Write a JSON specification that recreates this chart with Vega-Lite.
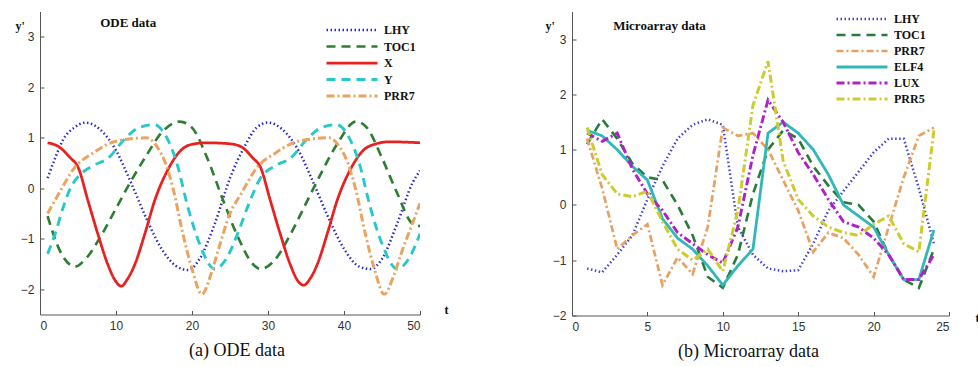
{
  "$schema": "https://vega.github.io/schema/vega-lite/v6.json",
  "background": "white",
  "padding": {"left": 15, "top": 8.5, "right": 0, "bottom": 0},
  "spacing": 152,
  "bounds": "flush",
  "config": {
    "view": {"stroke": null},
    "axis": {"grid": false, "domainColor": "#555", "tickColor": "#555", "tickSize": -4, "labelPadding": 10, "labelFont": "Liberation Sans", "labelFontSize": 12, "labelColor": "#333", "titleFont": "Liberation Serif", "titleFontWeight": "bold", "titleFontSize": 12, "titleColor": "#111", "format": "d"},
    "legend": {"orient": "none", "title": null, "symbolType": "M-3,0L3,0", "symbolSize": 289, "labelFont": "Liberation Serif", "labelFontWeight": "bold", "labelFontSize": 12, "labelColor": "#111", "padding": 0, "labelOffset": 22, "rowPadding": 0.5},
    "title": {"font": "Liberation Serif", "fontSize": 18, "fontWeight": "normal", "color": "#111", "orient": "bottom", "anchor": "middle"}
  },
  "resolve": {"scale": {"color": "independent", "strokeDash": "independent", "strokeWidth": "independent"}},
  "hconcat": [
    {
      "width": 380,
      "height": 303,
      "title": {"text": "(a) ODE data", "dx": 7, "offset": 10},
      "data": {"values": [
        {"gene": "LHY", "t": 1, "y": 0.2}, {"gene": "LHY", "t": 2, "y": 0.6}, {"gene": "LHY", "t": 3, "y": 0.95}, {"gene": "LHY", "t": 4.5, "y": 1.2}, {"gene": "LHY", "t": 6, "y": 1.3}, {"gene": "LHY", "t": 8, "y": 1.15}, {"gene": "LHY", "t": 10, "y": 0.75}, {"gene": "LHY", "t": 12, "y": 0.1}, {"gene": "LHY", "t": 14, "y": -0.6}, {"gene": "LHY", "t": 16, "y": -1.2}, {"gene": "LHY", "t": 18, "y": -1.55}, {"gene": "LHY", "t": 19.5, "y": -1.62}, {"gene": "LHY", "t": 21, "y": -1.4}, {"gene": "LHY", "t": 23, "y": -0.7}, {"gene": "LHY", "t": 25, "y": 0.2}, {"gene": "LHY", "t": 27, "y": 0.85}, {"gene": "LHY", "t": 28.5, "y": 1.2}, {"gene": "LHY", "t": 30, "y": 1.3}, {"gene": "LHY", "t": 32, "y": 1.15}, {"gene": "LHY", "t": 34, "y": 0.75}, {"gene": "LHY", "t": 36, "y": 0.1}, {"gene": "LHY", "t": 38, "y": -0.6}, {"gene": "LHY", "t": 40, "y": -1.2}, {"gene": "LHY", "t": 42, "y": -1.55}, {"gene": "LHY", "t": 43.5, "y": -1.6}, {"gene": "LHY", "t": 45, "y": -1.4}, {"gene": "LHY", "t": 47, "y": -0.7}, {"gene": "LHY", "t": 49, "y": 0.1}, {"gene": "LHY", "t": 50, "y": 0.35},
        {"gene": "TOC1", "t": 1, "y": -0.55}, {"gene": "TOC1", "t": 2.5, "y": -1.2}, {"gene": "TOC1", "t": 4.6, "y": -1.55}, {"gene": "TOC1", "t": 6, "y": -1.4}, {"gene": "TOC1", "t": 8, "y": -0.95}, {"gene": "TOC1", "t": 10, "y": -0.4}, {"gene": "TOC1", "t": 12, "y": 0.15}, {"gene": "TOC1", "t": 14, "y": 0.65}, {"gene": "TOC1", "t": 16, "y": 1.1}, {"gene": "TOC1", "t": 18.4, "y": 1.32}, {"gene": "TOC1", "t": 20, "y": 1.2}, {"gene": "TOC1", "t": 22, "y": 0.6}, {"gene": "TOC1", "t": 24, "y": -0.2}, {"gene": "TOC1", "t": 26, "y": -0.95}, {"gene": "TOC1", "t": 28, "y": -1.5}, {"gene": "TOC1", "t": 29, "y": -1.6}, {"gene": "TOC1", "t": 31, "y": -1.4}, {"gene": "TOC1", "t": 33, "y": -0.9}, {"gene": "TOC1", "t": 35, "y": -0.3}, {"gene": "TOC1", "t": 37, "y": 0.3}, {"gene": "TOC1", "t": 39, "y": 0.85}, {"gene": "TOC1", "t": 41.6, "y": 1.32}, {"gene": "TOC1", "t": 43, "y": 1.2}, {"gene": "TOC1", "t": 45, "y": 0.6}, {"gene": "TOC1", "t": 47, "y": -0.1}, {"gene": "TOC1", "t": 49, "y": -0.7}, {"gene": "TOC1", "t": 50, "y": -0.75},
        {"gene": "X", "t": 1, "y": 0.9}, {"gene": "X", "t": 2.5, "y": 0.82}, {"gene": "X", "t": 4, "y": 0.6}, {"gene": "X", "t": 5, "y": 0.42}, {"gene": "X", "t": 6.3, "y": -0.24}, {"gene": "X", "t": 7.6, "y": -0.9}, {"gene": "X", "t": 8.9, "y": -1.5}, {"gene": "X", "t": 10, "y": -1.85}, {"gene": "X", "t": 10.7, "y": -1.94}, {"gene": "X", "t": 11.5, "y": -1.8}, {"gene": "X", "t": 12.5, "y": -1.5}, {"gene": "X", "t": 13.8, "y": -0.9}, {"gene": "X", "t": 15.1, "y": -0.24}, {"gene": "X", "t": 16.8, "y": 0.36}, {"gene": "X", "t": 18.6, "y": 0.76}, {"gene": "X", "t": 20, "y": 0.87}, {"gene": "X", "t": 22, "y": 0.9}, {"gene": "X", "t": 25, "y": 0.88}, {"gene": "X", "t": 26.5, "y": 0.82}, {"gene": "X", "t": 28, "y": 0.6}, {"gene": "X", "t": 29, "y": 0.42}, {"gene": "X", "t": 30.3, "y": -0.24}, {"gene": "X", "t": 31.6, "y": -0.9}, {"gene": "X", "t": 32.9, "y": -1.5}, {"gene": "X", "t": 34, "y": -1.85}, {"gene": "X", "t": 34.7, "y": -1.92}, {"gene": "X", "t": 35.5, "y": -1.8}, {"gene": "X", "t": 36.5, "y": -1.5}, {"gene": "X", "t": 37.8, "y": -0.9}, {"gene": "X", "t": 39.1, "y": -0.24}, {"gene": "X", "t": 40.8, "y": 0.36}, {"gene": "X", "t": 42.6, "y": 0.76}, {"gene": "X", "t": 44, "y": 0.87}, {"gene": "X", "t": 46, "y": 0.92}, {"gene": "X", "t": 50, "y": 0.9},
        {"gene": "Y", "t": 1, "y": -1.3}, {"gene": "Y", "t": 2, "y": -0.9}, {"gene": "Y", "t": 3, "y": -0.4}, {"gene": "Y", "t": 4, "y": 0.0}, {"gene": "Y", "t": 5.5, "y": 0.3}, {"gene": "Y", "t": 7, "y": 0.45}, {"gene": "Y", "t": 9, "y": 0.6}, {"gene": "Y", "t": 11, "y": 0.95}, {"gene": "Y", "t": 13, "y": 1.2}, {"gene": "Y", "t": 15, "y": 1.26}, {"gene": "Y", "t": 16.5, "y": 1.05}, {"gene": "Y", "t": 18, "y": 0.5}, {"gene": "Y", "t": 19.5, "y": -0.4}, {"gene": "Y", "t": 21, "y": -1.1}, {"gene": "Y", "t": 23, "y": -1.6}, {"gene": "Y", "t": 24.5, "y": -1.4}, {"gene": "Y", "t": 26, "y": -0.9}, {"gene": "Y", "t": 27.5, "y": -0.3}, {"gene": "Y", "t": 29, "y": 0.2}, {"gene": "Y", "t": 31, "y": 0.45}, {"gene": "Y", "t": 33, "y": 0.6}, {"gene": "Y", "t": 35, "y": 0.95}, {"gene": "Y", "t": 37, "y": 1.2}, {"gene": "Y", "t": 39, "y": 1.26}, {"gene": "Y", "t": 40.5, "y": 1.05}, {"gene": "Y", "t": 42, "y": 0.5}, {"gene": "Y", "t": 43.5, "y": -0.4}, {"gene": "Y", "t": 45, "y": -1.1}, {"gene": "Y", "t": 47, "y": -1.6}, {"gene": "Y", "t": 48.5, "y": -1.4}, {"gene": "Y", "t": 50, "y": -0.9},
        {"gene": "PRR7", "t": 1, "y": -0.5}, {"gene": "PRR7", "t": 2.5, "y": -0.1}, {"gene": "PRR7", "t": 4.5, "y": 0.4}, {"gene": "PRR7", "t": 7, "y": 0.7}, {"gene": "PRR7", "t": 9, "y": 0.88}, {"gene": "PRR7", "t": 12, "y": 0.98}, {"gene": "PRR7", "t": 14, "y": 1.0}, {"gene": "PRR7", "t": 15.5, "y": 0.8}, {"gene": "PRR7", "t": 16.5, "y": 0.5}, {"gene": "PRR7", "t": 17.5, "y": 0.0}, {"gene": "PRR7", "t": 18.8, "y": -0.9}, {"gene": "PRR7", "t": 20, "y": -1.6}, {"gene": "PRR7", "t": 21.3, "y": -2.1}, {"gene": "PRR7", "t": 22.5, "y": -1.7}, {"gene": "PRR7", "t": 23.5, "y": -1.2}, {"gene": "PRR7", "t": 25, "y": -0.5}, {"gene": "PRR7", "t": 26.5, "y": -0.1}, {"gene": "PRR7", "t": 28.5, "y": 0.4}, {"gene": "PRR7", "t": 31, "y": 0.7}, {"gene": "PRR7", "t": 33, "y": 0.88}, {"gene": "PRR7", "t": 36, "y": 0.98}, {"gene": "PRR7", "t": 38, "y": 1.0}, {"gene": "PRR7", "t": 39.5, "y": 0.8}, {"gene": "PRR7", "t": 40.5, "y": 0.5}, {"gene": "PRR7", "t": 41.5, "y": 0.0}, {"gene": "PRR7", "t": 42.8, "y": -0.9}, {"gene": "PRR7", "t": 44, "y": -1.6}, {"gene": "PRR7", "t": 45.3, "y": -2.1}, {"gene": "PRR7", "t": 46.5, "y": -1.75}, {"gene": "PRR7", "t": 47.5, "y": -1.3}, {"gene": "PRR7", "t": 49, "y": -0.7}, {"gene": "PRR7", "t": 50, "y": -0.3}
      ]},
      "layer": [
        {
          "mark": {"type": "line", "interpolate": "monotone", "clip": true},
          "encoding": {
            "x": {"field": "t", "type": "quantitative", "scale": {"domain": [0, 50], "nice": false}, "axis": {"values": [0, 10, 20, 30, 40, 50], "title": "t", "titleX": 406, "titleY": -5, "titleAlign": "center", "titleBaseline": "middle"}},
            "y": {"field": "y", "type": "quantitative", "scale": {"domain": [-2.5, 3.5], "nice": false}, "axis": {"values": [-2, -1, 0, 1, 2, 3], "title": "y'", "titleAngle": 0, "titleX": -25, "titleY": 14, "titleAlign": "left", "titleBaseline": "middle"}},
            "color": {"field": "gene", "type": "nominal", "scale": {"domain": ["LHY", "TOC1", "X", "Y", "PRR7"], "range": ["#2b2bc8", "#2e7d32", "#e82020", "#28c8c8", "#e8a460"]}, "legend": {"legendX": 302, "legendY": 8.5}},
            "strokeDash": {"field": "gene", "type": "nominal", "scale": {"domain": ["LHY", "TOC1", "X", "Y", "PRR7"], "range": [[1.5, 2.5], [9, 6], [1, 0], [9, 6], [8, 3, 2, 3]]}, "legend": {"legendX": 302, "legendY": 8.5}},
            "strokeWidth": {"field": "gene", "type": "nominal", "scale": {"domain": ["LHY", "TOC1", "X", "Y", "PRR7"], "range": [2.5, 3, 3, 3.5, 3]}, "legend": {"legendX": 302, "legendY": 8.5}}
          }
        },
        {
          "data": {"values": [{"label": "ODE data"}]},
          "mark": {"type": "text", "font": "Liberation Serif", "fontWeight": "bold", "fontSize": 13, "color": "#111"},
          "encoding": {"x": {"datum": 11.6}, "y": {"datum": 3.28}, "text": {"field": "label"}}
        }
      ]
    },
    {
      "width": 377,
      "height": 304,
      "title": {"text": "(b) Microarray data", "dx": -12, "offset": 10},
      "data": {"values": [
        {"gene": "LHY", "t": 1, "y": -1.15}, {"gene": "LHY", "t": 2, "y": -1.22}, {"gene": "LHY", "t": 3, "y": -0.9}, {"gene": "LHY", "t": 4, "y": -0.55}, {"gene": "LHY", "t": 5, "y": 0.1}, {"gene": "LHY", "t": 6, "y": 0.7}, {"gene": "LHY", "t": 7, "y": 1.2}, {"gene": "LHY", "t": 8, "y": 1.45}, {"gene": "LHY", "t": 9, "y": 1.55}, {"gene": "LHY", "t": 10, "y": 1.45}, {"gene": "LHY", "t": 11, "y": -0.4}, {"gene": "LHY", "t": 12, "y": -0.9}, {"gene": "LHY", "t": 13, "y": -1.15}, {"gene": "LHY", "t": 14, "y": -1.2}, {"gene": "LHY", "t": 15, "y": -1.18}, {"gene": "LHY", "t": 16, "y": -0.7}, {"gene": "LHY", "t": 17, "y": -0.1}, {"gene": "LHY", "t": 18, "y": 0.25}, {"gene": "LHY", "t": 19, "y": 0.6}, {"gene": "LHY", "t": 20, "y": 0.95}, {"gene": "LHY", "t": 21, "y": 1.2}, {"gene": "LHY", "t": 22, "y": 1.2}, {"gene": "LHY", "t": 23, "y": 0.3}, {"gene": "LHY", "t": 24, "y": -0.7},
        {"gene": "TOC1", "t": 1, "y": 1.1}, {"gene": "TOC1", "t": 2, "y": 1.55}, {"gene": "TOC1", "t": 3, "y": 1.2}, {"gene": "TOC1", "t": 4, "y": 0.75}, {"gene": "TOC1", "t": 5, "y": 0.5}, {"gene": "TOC1", "t": 6, "y": 0.45}, {"gene": "TOC1", "t": 7, "y": 0.0}, {"gene": "TOC1", "t": 8, "y": -0.55}, {"gene": "TOC1", "t": 9, "y": -1.3}, {"gene": "TOC1", "t": 10, "y": -1.5}, {"gene": "TOC1", "t": 11, "y": -0.9}, {"gene": "TOC1", "t": 12, "y": 0.2}, {"gene": "TOC1", "t": 13, "y": 1.0}, {"gene": "TOC1", "t": 14, "y": 1.35}, {"gene": "TOC1", "t": 15, "y": 1.2}, {"gene": "TOC1", "t": 16, "y": 0.7}, {"gene": "TOC1", "t": 17, "y": 0.35}, {"gene": "TOC1", "t": 18, "y": 0.05}, {"gene": "TOC1", "t": 19, "y": 0.0}, {"gene": "TOC1", "t": 20, "y": -0.3}, {"gene": "TOC1", "t": 21, "y": -0.9}, {"gene": "TOC1", "t": 22, "y": -1.35}, {"gene": "TOC1", "t": 23, "y": -1.5}, {"gene": "TOC1", "t": 24, "y": -0.8},
        {"gene": "PRR7", "t": 1, "y": 1.2}, {"gene": "PRR7", "t": 2, "y": 0.3}, {"gene": "PRR7", "t": 3, "y": -0.8}, {"gene": "PRR7", "t": 4, "y": -0.55}, {"gene": "PRR7", "t": 5, "y": -0.35}, {"gene": "PRR7", "t": 6, "y": -1.45}, {"gene": "PRR7", "t": 7, "y": -0.95}, {"gene": "PRR7", "t": 8, "y": -1.25}, {"gene": "PRR7", "t": 9, "y": -0.4}, {"gene": "PRR7", "t": 10, "y": 1.4}, {"gene": "PRR7", "t": 11, "y": 1.25}, {"gene": "PRR7", "t": 12, "y": 1.3}, {"gene": "PRR7", "t": 13, "y": 1.0}, {"gene": "PRR7", "t": 14, "y": 0.45}, {"gene": "PRR7", "t": 15, "y": -0.1}, {"gene": "PRR7", "t": 16, "y": -0.85}, {"gene": "PRR7", "t": 17, "y": -0.5}, {"gene": "PRR7", "t": 18, "y": -0.6}, {"gene": "PRR7", "t": 19, "y": -0.9}, {"gene": "PRR7", "t": 20, "y": -1.3}, {"gene": "PRR7", "t": 21, "y": -0.4}, {"gene": "PRR7", "t": 22, "y": 0.5}, {"gene": "PRR7", "t": 23, "y": 1.25}, {"gene": "PRR7", "t": 24, "y": 1.4},
        {"gene": "ELF4", "t": 1, "y": 1.35}, {"gene": "ELF4", "t": 2, "y": 1.25}, {"gene": "ELF4", "t": 3, "y": 1.0}, {"gene": "ELF4", "t": 4, "y": 0.7}, {"gene": "ELF4", "t": 5, "y": 0.45}, {"gene": "ELF4", "t": 6, "y": -0.25}, {"gene": "ELF4", "t": 7, "y": -0.6}, {"gene": "ELF4", "t": 8, "y": -0.8}, {"gene": "ELF4", "t": 9, "y": -1.1}, {"gene": "ELF4", "t": 10, "y": -1.45}, {"gene": "ELF4", "t": 11, "y": -1.1}, {"gene": "ELF4", "t": 12, "y": -0.8}, {"gene": "ELF4", "t": 13, "y": 1.3}, {"gene": "ELF4", "t": 14, "y": 1.5}, {"gene": "ELF4", "t": 15, "y": 1.3}, {"gene": "ELF4", "t": 16, "y": 1.0}, {"gene": "ELF4", "t": 17, "y": 0.55}, {"gene": "ELF4", "t": 18, "y": 0.0}, {"gene": "ELF4", "t": 19, "y": -0.2}, {"gene": "ELF4", "t": 20, "y": -0.4}, {"gene": "ELF4", "t": 21, "y": -0.9}, {"gene": "ELF4", "t": 22, "y": -1.35}, {"gene": "ELF4", "t": 23, "y": -1.35}, {"gene": "ELF4", "t": 24, "y": -0.45},
        {"gene": "LUX", "t": 1, "y": 1.3}, {"gene": "LUX", "t": 2, "y": 1.15}, {"gene": "LUX", "t": 3, "y": 1.3}, {"gene": "LUX", "t": 4, "y": 0.65}, {"gene": "LUX", "t": 5, "y": 0.2}, {"gene": "LUX", "t": 6, "y": -0.1}, {"gene": "LUX", "t": 7, "y": -0.5}, {"gene": "LUX", "t": 8, "y": -0.7}, {"gene": "LUX", "t": 9, "y": -0.9}, {"gene": "LUX", "t": 10, "y": -1.05}, {"gene": "LUX", "t": 11, "y": -0.4}, {"gene": "LUX", "t": 12, "y": 0.9}, {"gene": "LUX", "t": 13, "y": 1.9}, {"gene": "LUX", "t": 14, "y": 1.5}, {"gene": "LUX", "t": 15, "y": 0.95}, {"gene": "LUX", "t": 16, "y": 0.55}, {"gene": "LUX", "t": 17, "y": 0.1}, {"gene": "LUX", "t": 18, "y": -0.3}, {"gene": "LUX", "t": 19, "y": -0.4}, {"gene": "LUX", "t": 20, "y": -0.6}, {"gene": "LUX", "t": 21, "y": -0.9}, {"gene": "LUX", "t": 22, "y": -1.35}, {"gene": "LUX", "t": 23, "y": -1.35}, {"gene": "LUX", "t": 24, "y": -0.9},
        {"gene": "PRR5", "t": 1, "y": 1.4}, {"gene": "PRR5", "t": 2, "y": 0.55}, {"gene": "PRR5", "t": 3, "y": 0.2}, {"gene": "PRR5", "t": 4, "y": 0.15}, {"gene": "PRR5", "t": 5, "y": 0.25}, {"gene": "PRR5", "t": 6, "y": -0.3}, {"gene": "PRR5", "t": 7, "y": -0.8}, {"gene": "PRR5", "t": 8, "y": -1.0}, {"gene": "PRR5", "t": 9, "y": -0.8}, {"gene": "PRR5", "t": 10, "y": -1.2}, {"gene": "PRR5", "t": 11, "y": -0.1}, {"gene": "PRR5", "t": 12, "y": 1.8}, {"gene": "PRR5", "t": 13, "y": 2.6}, {"gene": "PRR5", "t": 14, "y": 0.8}, {"gene": "PRR5", "t": 15, "y": 0.1}, {"gene": "PRR5", "t": 16, "y": -0.2}, {"gene": "PRR5", "t": 17, "y": -0.4}, {"gene": "PRR5", "t": 18, "y": -0.5}, {"gene": "PRR5", "t": 19, "y": -0.55}, {"gene": "PRR5", "t": 20, "y": -0.35}, {"gene": "PRR5", "t": 21, "y": -0.2}, {"gene": "PRR5", "t": 22, "y": -0.7}, {"gene": "PRR5", "t": 23, "y": -0.85}, {"gene": "PRR5", "t": 24, "y": 1.35}
      ]},
      "layer": [
        {
          "mark": {"type": "line", "clip": true},
          "encoding": {
            "x": {"field": "t", "type": "quantitative", "scale": {"domain": [0, 25], "nice": false}, "axis": {"values": [0, 5, 10, 15, 20, 25], "title": "t", "titleX": 405, "titleY": 2, "titleAlign": "center", "titleBaseline": "middle"}},
            "y": {"field": "y", "type": "quantitative", "scale": {"domain": [-2, 3.5], "nice": false}, "axis": {"values": [-2, -1, 0, 1, 2, 3], "title": "y'", "titleAngle": 0, "titleX": -27, "titleY": 14, "titleAlign": "left", "titleBaseline": "middle"}},
            "color": {"field": "gene", "type": "nominal", "scale": {"domain": ["LHY", "TOC1", "PRR7", "ELF4", "LUX", "PRR5"], "range": ["#4444cc", "#2a7a3a", "#e8a060", "#30b8b8", "#b020c8", "#cccc30"]}, "legend": {"legendX": 280, "legendY": -2.5, "rowPadding": -0.4}},
            "strokeDash": {"field": "gene", "type": "nominal", "scale": {"domain": ["LHY", "TOC1", "PRR7", "ELF4", "LUX", "PRR5"], "range": [[1.5, 2.5], [9, 6], [7, 3, 2, 3], [1, 0], [8, 3, 2, 3], [8, 3, 2, 3]]}, "legend": {"legendX": 280, "legendY": -2.5, "rowPadding": -0.4}},
            "strokeWidth": {"field": "gene", "type": "nominal", "scale": {"domain": ["LHY", "TOC1", "PRR7", "ELF4", "LUX", "PRR5"], "range": [2.5, 3, 2.5, 3, 3, 4]}, "legend": {"legendX": 280, "legendY": -2.5, "rowPadding": -0.4}}
          }
        },
        {
          "data": {"values": [{"label": "Microarray data"}]},
          "mark": {"type": "text", "font": "Liberation Serif", "fontWeight": "bold", "fontSize": 13, "color": "#111"},
          "encoding": {"x": {"datum": 5.8}, "y": {"datum": 3.24}, "text": {"field": "label"}}
        }
      ]
    }
  ]
}
